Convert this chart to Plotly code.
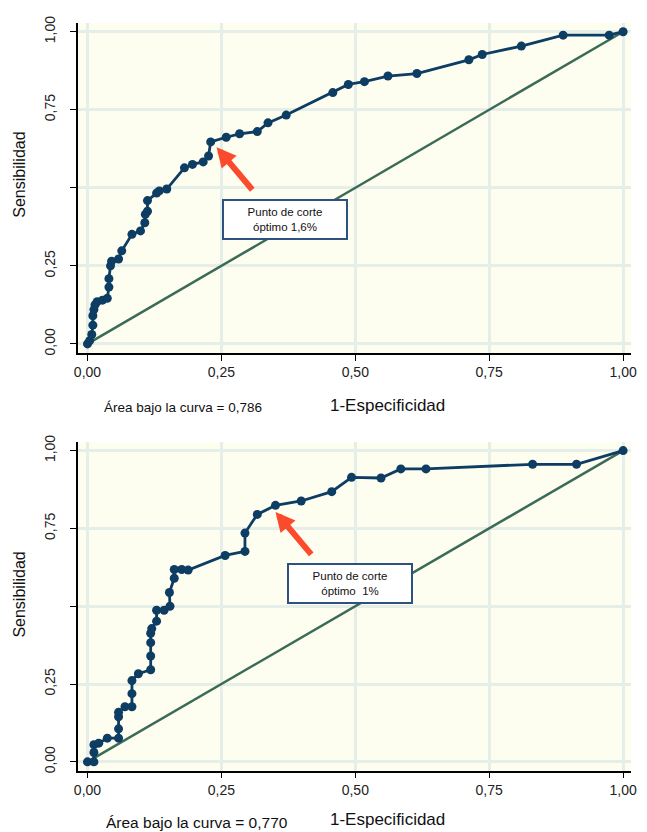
import plotly.graph_objects as go

# ---- data ----
fpr_top = [0.000, 0.004, 0.008, 0.010, 0.010, 0.012, 0.014, 0.018, 0.028, 0.037, 0.040, 0.040,
           0.043, 0.045, 0.058, 0.064, 0.083, 0.099, 0.107, 0.108, 0.112, 0.112, 0.129, 0.134,
           0.148, 0.181, 0.196, 0.216, 0.226, 0.230, 0.259, 0.284, 0.317, 0.337, 0.371, 0.458,
           0.487, 0.517, 0.561, 0.615, 0.712, 0.737, 0.810, 0.888, 0.974, 1.000]
sens_top = [0.000, 0.010, 0.030, 0.060, 0.090, 0.110, 0.125, 0.135, 0.140, 0.146, 0.182, 0.209,
            0.250, 0.265, 0.272, 0.298, 0.351, 0.362, 0.388, 0.415, 0.425, 0.459, 0.483, 0.490,
            0.496, 0.564, 0.575, 0.583, 0.602, 0.647, 0.662, 0.673, 0.680, 0.708, 0.733, 0.805,
            0.831, 0.840, 0.858, 0.866, 0.910, 0.927, 0.954, 0.989, 0.989, 1.000]

fpr_bot = [0.000, 0.012, 0.012, 0.012, 0.021, 0.037, 0.058, 0.058, 0.058, 0.058, 0.070, 0.083,
           0.083, 0.083, 0.095, 0.118, 0.118, 0.118, 0.118, 0.120, 0.129, 0.129, 0.143, 0.154,
           0.153, 0.162, 0.162, 0.176, 0.188, 0.257, 0.294, 0.294, 0.317, 0.351, 0.399, 0.456,
           0.493, 0.548, 0.585, 0.632, 0.831, 0.913, 1.000]
sens_bot = [0.000, 0.000, 0.030, 0.055, 0.060, 0.076, 0.076, 0.106, 0.145, 0.159, 0.177, 0.177,
            0.219, 0.261, 0.283, 0.296, 0.340, 0.383, 0.413, 0.428, 0.452, 0.487, 0.487, 0.500,
            0.544, 0.590, 0.618, 0.618, 0.616, 0.663, 0.676, 0.735, 0.795, 0.824, 0.838, 0.868,
            0.914, 0.912, 0.941, 0.941, 0.956, 0.956, 1.000]

ref_line = [0.0, 1.0]
tick_vals = [0.0, 0.25, 0.5, 0.75, 1.0]
x_tick_text = ["0,00", "0,25", "0,50", "0,75", "1,00"]
y_tick_text = ["0,00", "0,25", "", "0,75", "1,00"]

auc_top = "Área bajo la curva = 0,786"
auc_bot = "Área bajo la curva = 0,770"
cut_top = "Punto de corte<br>óptimo 1,6%"
cut_bot = "Punto de corte<br>óptimo  1%"
cut_top_xy = (0.368, 0.400)
cut_bot_xy = (0.491, 0.572)
arrow_top_xy = (0.241, 0.630)
arrow_bot_xy = (0.351, 0.803)

NAVY = "#0d3d62"
GREEN = "#3b6b57"
BG = "#fdfdf0"
GRID = "#e6eee9"
FONT = "Liberation Sans, Arial, sans-serif"

fig = go.Figure()

for i, (fx, sy) in enumerate([(fpr_top, sens_top), (fpr_bot, sens_bot)]):
    xa = "x" if i == 0 else "x2"
    ya = "y" if i == 0 else "y2"
    fig.add_trace(go.Scatter(x=ref_line, y=ref_line, mode="lines",
                             line=dict(color=GREEN, width=2.5),
                             xaxis=xa, yaxis=ya, showlegend=False, hoverinfo="skip"))
    fig.add_trace(go.Scatter(x=fx, y=sy, mode="lines+markers",
                             line=dict(color=NAVY, width=2.8),
                             marker=dict(color=NAVY, size=9),
                             xaxis=xa, yaxis=ya, showlegend=False))

xr = [-0.018, 1.015]
yr = [-0.0285, 1.0285]
common_x = dict(range=xr, tickvals=tick_vals, ticktext=x_tick_text, showgrid=True,
                gridcolor=GRID, gridwidth=2.5, zeroline=False, showline=True,
                linecolor="black", linewidth=1.5, ticks="outside", ticklen=6,
                tickcolor="black", tickfont=dict(family=FONT, size=14, color="#222"))
common_y = dict(range=yr, tickvals=tick_vals, ticktext=y_tick_text, showgrid=True,
                gridcolor=GRID, gridwidth=2.5, zeroline=False, showline=True,
                linecolor="black", linewidth=1.5, ticks="outside", ticklen=6,
                tickcolor="black", tickangle=-90, ticklabelstandoff=9,
                tickfont=dict(family=FONT, size=14, color="#222"))

W, H = 647, 832
xdom = [75 / W, 637 / W]
fig.update_layout(
    width=W, height=H,
    margin=dict(l=0, r=0, t=0, b=0),
    paper_bgcolor="white", plot_bgcolor=BG,
    font=dict(family=FONT),
    xaxis=dict(domain=xdom, anchor="y", **common_x),
    yaxis=dict(domain=[1 - 350 / H, 1 - 16 / H], anchor="x", **common_y),
    xaxis2=dict(domain=xdom, anchor="y2", **common_x),
    yaxis2=dict(domain=[1 - 773 / H, 1 - 440 / H], anchor="x2", **common_y),
)

annos = []
for (xa, ya, cut, cxy, axy) in [("x", "y", cut_top, cut_top_xy, arrow_top_xy),
                                ("x2", "y2", cut_bot, cut_bot_xy, arrow_bot_xy)]:
    annos.append(dict(xref=xa, yref=ya, x=axy[0], y=axy[1], text="", showarrow=True,
                      ax=37, ay=44, arrowcolor="#fc4a2c", arrowwidth=6, arrowhead=2,
                      arrowsize=0.65, standoff=0))
    annos.append(dict(xref=xa, yref=ya, x=cxy[0], y=cxy[1], text=cut, showarrow=False,
                      font=dict(family=FONT, size=11.5, color="#111"),
                      bordercolor="#2d5280", borderwidth=2, borderpad=1, bgcolor="white",
                      width=120, height=35, align="center"))


def px(xp, yp):
    return xp / W, 1 - yp / H


for (auc, yp_auc, yp_x, fam, ax_c, fs) in [
        (auc_top, 405, 403, "Liberation Sans Narrow, Arial Narrow, " + FONT, 182, 13.5),
        (auc_bot, 825, 822, FONT, 196, 15.5)]:
    x1, y1 = px(ax_c, yp_auc)
    annos.append(dict(xref="paper", yref="paper", x=x1, y=y1, text=auc, showarrow=False,
                      xanchor="center", yanchor="middle",
                      font=dict(family=fam, size=fs, color="#111")))
    x2, y2 = px(390, yp_x)
    annos.append(dict(xref="paper", yref="paper", x=x2, y=y2, text="1-Especificidad",
                      showarrow=False, xanchor="center", yanchor="middle",
                      font=dict(family=FONT, size=17, color="#111")))

for yp in [170, 595]:
    x1, y1 = px(16, yp)
    annos.append(dict(xref="paper", yref="paper", x=x1, y=y1, text="Sensibilidad",
                      showarrow=False, textangle=-90, xanchor="center", yanchor="middle",
                      font=dict(family=FONT, size=16, color="#111")))

fig.update_layout(annotations=annos)
fig.write_html("out.html", config={"displayModeBar": False},
               post_script="document.body.style.margin='0';document.body.style.overflow='hidden';")
